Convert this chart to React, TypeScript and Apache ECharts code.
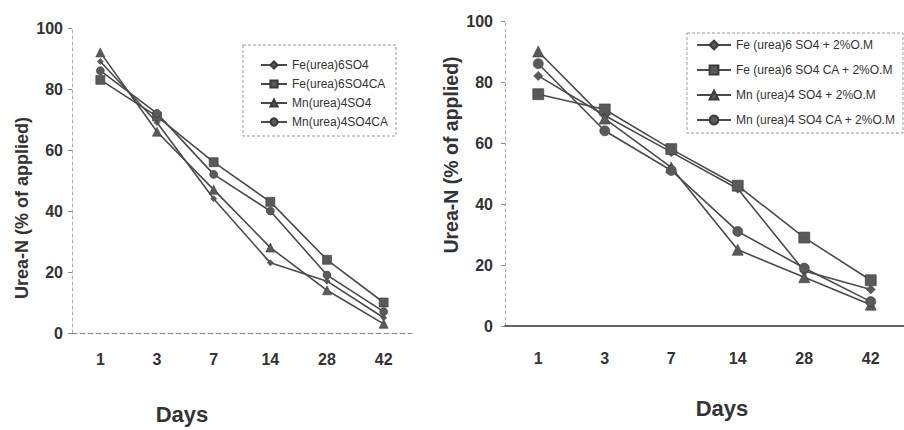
import React, { useEffect, useRef } from "react";
import * as echarts from "echarts";

const days = ["1", "3", "7", "14", "28", "42"];
const yTicks = [0, 20, 40, 60, 80, 100];

// Left panel
const leftNames = ["Fe(urea)6SO4", "Fe(urea)6SO4CA", "Mn(urea)4SO4", "Mn(urea)4SO4CA"];
const feSO4 = [89, 69, 44, 23, 17, 5];
const feSO4CA = [83, 71, 56, 43, 24, 10];
const mnSO4 = [92, 66, 47, 28, 14, 3];
const mnSO4CA = [86, 72, 52, 40, 19, 7];

// Right panel
const rightNames = [
  "Fe (urea)6 SO4 + 2%O.M",
  "Fe (urea)6 SO4 CA + 2%O.M",
  "Mn (urea)4 SO4 + 2%O.M",
  "Mn (urea)4 SO4 CA + 2%O.M",
];
const feSO4OM = [82, 69, 57, 45, 18, 12];
const feSO4CAOM = [76, 71, 58, 46, 29, 15];
const mnSO4OM = [90, 68, 52, 25, 16, 7];
const mnSO4CAOM = [86, 64, 51, 31, 19, 8];

const FONT = '"Liberation Sans", Arial, sans-serif';
const LINE = "#4a4a4a";
const MARK = "#5a5a5a";

const symbols = ["diamond", "rect", "triangle", "circle"];
const leftSizes = [6, 9, 9, 8];
const rightSizes = [9, 11, 11, 10];

export default function App() {
  const ref = useRef<HTMLDivElement>(null);
  useEffect(() => {
    if (!ref.current) return;
    const chart = echarts.init(ref.current, undefined, { renderer: "svg" });
    const leftData = [feSO4, feSO4CA, mnSO4, mnSO4CA];
    const rightData = [feSO4OM, feSO4CAOM, mnSO4OM, mnSO4CAOM];

    const mkSeries = (names: string[], data: number[][], idx: number, sizes: number[]) =>
      names.map((n, i) => ({
        name: n,
        type: "line",
        xAxisIndex: idx,
        yAxisIndex: idx,
        data: data[i],
        symbol: symbols[i],
        symbolSize: sizes[i],
        showSymbol: true,
        lineStyle: { color: LINE, width: 1.6 },
        itemStyle: { color: MARK, borderColor: "#3a3a3a", borderWidth: 0.6 },
        emphasis: { disabled: true },
      }));

    const yAxisBase = (margin: number) => ({
      type: "value",
      min: yTicks[0],
      max: yTicks[yTicks.length - 1],
      interval: 20,
      axisLine: { show: true, lineStyle: { color: "#aaa", type: [3, 3], width: 1 } },
      axisTick: { show: true, length: 4, lineStyle: { color: "#888" } },
      splitLine: { show: false },
      axisLabel: { color: "#333", fontSize: 16, fontWeight: "bold", fontFamily: FONT, margin },
    });

    const nameText = (x: number, y: number, size: number) => ({
      type: "text",
      x,
      y,
      rotation: Math.PI / 2,
      style: {
        text: "Urea-N (% of applied)",
        fontSize: size,
        fontWeight: "bold",
        fontFamily: FONT,
        fill: "#333",
        align: "center",
        verticalAlign: "middle",
      },
      silent: true,
    });

    const daysText = (x: number, y: number) => ({
      type: "text",
      x,
      y,
      style: {
        text: "Days",
        fontSize: 22,
        fontWeight: "bold",
        fontFamily: FONT,
        fill: "#333",
        align: "center",
        verticalAlign: "middle",
      },
      silent: true,
    });

    chart.setOption({
      animation: false,
      backgroundColor: "#ffffff",
      grid: [
        { left: 72, top: 28, width: 340, height: 305, containLabel: false },
        { left: 505, top: 21, width: 399, height: 305, containLabel: false },
      ],
      xAxis: [
        {
          type: "category",
          gridIndex: 0,
          data: days,
          boundaryGap: true,
          axisLine: { show: true, lineStyle: { color: "#888", type: [5, 3], width: 1 } },
          axisTick: { show: false },
          axisLabel: { color: "#333", fontSize: 16, fontWeight: "bold", fontFamily: FONT, margin: 18 },
        },
        {
          type: "category",
          gridIndex: 1,
          data: days,
          boundaryGap: true,
          axisLine: { show: true, lineStyle: { color: "#333", width: 1.6 } },
          axisTick: { show: false },
          axisLabel: { color: "#333", fontSize: 16, fontWeight: "bold", fontFamily: FONT, margin: 24 },
        },
      ],
      yAxis: [
        { ...yAxisBase(9), gridIndex: 0 },
        { ...yAxisBase(12), gridIndex: 1 },
      ],
      legend: [
        {
          data: leftNames,
          orient: "vertical",
          left: 255,
          top: 53,
          itemWidth: 26,
          itemHeight: 9,
          itemGap: 5,
          textStyle: { color: "#333", fontSize: 12, fontFamily: FONT, lineHeight: 14 },
          selectedMode: false,
        },
        {
          data: rightNames,
          orient: "vertical",
          left: 691,
          top: 32,
          itemWidth: 34,
          itemHeight: 11,
          itemGap: 9,
          itemTextGap: 4,
          textStyle: { color: "#333", fontSize: 12, fontFamily: FONT, lineHeight: 16 },
          selectedMode: false,
        },
      ],
      graphic: [
        {
          type: "rect",
          shape: { x: 243, y: 45, width: 153, height: 91 },
          style: { fill: "none", stroke: "#999", lineWidth: 1, lineDash: [3, 2] },
          silent: true,
        },
        {
          type: "rect",
          shape: { x: 687, y: 33, width: 216, height: 100 },
          style: { fill: "none", stroke: "#999", lineWidth: 1, lineDash: [3, 2] },
          silent: true,
        },
        nameText(22, 208, 18),
        nameText(451, 155, 19.5),
        daysText(182, 414),
        daysText(722, 408),
      ],
      series: [
        ...mkSeries(leftNames, leftData, 0, leftSizes),
        ...mkSeries(rightNames, rightData, 1, rightSizes),
      ],
    });
    return () => chart.dispose();
  }, []);
  return (
    <div
      ref={ref}
      style={{ position: "fixed", left: 0, top: 0, width: 904, height: 430, background: "#fff" }}
    />
  );
}
